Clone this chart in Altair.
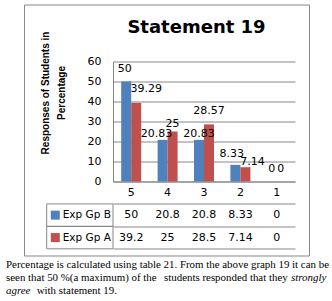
import altair as alt
import pandas as pd

# ---- data ----
categories = ["5", "4", "3", "2", "1"]
series = ["Exp Gp B", "Exp Gp A"]
exp_gp_b = [50, 20.83, 20.83, 8.33, 0]
exp_gp_a = [39.29, 25, 28.57, 7.14, 0]
table_b = ["50", "20.8", "20.8", "8.33", "0"]
table_a = ["39.2", "25", "28.5", "7.14", "0"]
colors = ["#4F81BD", "#C0504D"]

# label nudges (pixels) as placed in the reference to avoid collisions
label_dx_b = [-1.5, -6, 0, -3.7, 0]
label_dx_a = [10, 0, 0, 7, -1]
label_dy_b = [-10, -3, -3, -8, -10]
label_dy_a = [-11.4, -4.7, -10, -2.7, -10]

title_text = "Statement 19"
y_title = ["Responses of Students in", "Percentage"]
caption_line1 = "Percentage is calculated using table 21. From the above graph 19 it can be"
caption_line2a = "seen that 50 %(a maximum) of the"
caption_line2b = "students responded that they"
caption_italic2 = "strongly"
caption_italic3 = "agree"
caption_line3 = "with statement 19."

GRID = "#878787"
W, H, TH = 182, 120, 67.3

# ---- build tables ----
rows = []
for s, vals, dxs, dys in zip(series, [exp_gp_b, exp_gp_a], [label_dx_b, label_dx_a], [label_dy_b, label_dy_a]):
    for c, v, ddx, ddy in zip(categories, vals, dxs, dys):
        rows.append({"cat": c, "series": s, "value": v, "label": f"{v:g}", "ldx": ddx, "ldy": ddy})
bars_df = pd.DataFrame(rows)

trows = []
for c in categories:
    trows.append({"cat": c, "row": "hdr", "txt": c})
for s, vals in zip(series, [table_b, table_a]):
    for c, v in zip(categories, vals):
        trows.append({"cat": c, "row": s, "txt": v})
table_df = pd.DataFrame(trows)
legend_df = pd.DataFrame({"row": series})
one = pd.DataFrame({"k": [0]})

row_order = ["hdr"] + series
color_scale = alt.Scale(domain=series, range=colors)
cat_scale = alt.Scale(domain=categories, paddingInner=0, paddingOuter=0)

x_bar = alt.X("cat:N", sort=categories, scale=cat_scale,
              axis=alt.Axis(tickBand="extent", labels=False, ticks=True, tickSize=TH,
                            tickColor=GRID, domainColor=GRID, grid=False, title=None))
x_plain = alt.X("cat:N", sort=categories, scale=cat_scale, axis=None)
xoff = alt.XOffset("series:N", sort=series, scale=alt.Scale(domain=series, paddingInner=0, paddingOuter=0.82))
y_val = alt.Y(
    "value:Q",
    scale=alt.Scale(domain=[0, 60]),
    axis=alt.Axis(
        values=[0, 10, 20, 30, 40, 50, 60],
        grid=True, gridColor=GRID, domainColor=GRID, ticks=False,
        labelFont="DejaVu Sans", labelFontSize=11, labelColor="black", labelPadding=12,
        title=y_title, titleFont="Liberation Sans", titleFontSize=10, titleFontWeight="bold",
        titleColor="black", titleX=-63, titleY=31, titleBaseline="bottom", titleLineHeight=16.7,
    ),
)
y_val_plain = alt.Y("value:Q", scale=alt.Scale(domain=[0, 60]), axis=None)

row_scale = alt.Scale(domain=row_order, range=[H, H + TH], paddingInner=0, paddingOuter=0)
y_row_grid = alt.Y("row:N", sort=row_order, scale=row_scale,
                   axis=alt.Axis(tickBand="extent", grid=True, gridColor=GRID, labels=False,
                                 ticks=False, domain=False, title=None))
y_row = alt.Y("row:N", sort=row_order, scale=row_scale, axis=None)

# ---- plot ----
bars = alt.Chart(bars_df).mark_bar().encode(
    x=x_bar, xOffset=xoff, y=y_val,
    color=alt.Color("series:N", scale=color_scale, legend=None),
)
bar_labels = alt.Chart(bars_df).mark_text(
    baseline="alphabetic", font="DejaVu Sans", fontSize=11, color="black",
    dx={"expr": "datum.ldx"}, dy={"expr": "datum.ldy"},
).encode(x=x_plain, xOffset=xoff, y=y_val_plain, text="label:N")

# ---- data table ----
cells = alt.Chart(table_df).mark_text(font="DejaVu Sans", fontSize=11, color="black").encode(
    x=x_plain, y=y_row_grid, text="txt:N")
legend_box = alt.Chart(legend_df).mark_rect(fill="transparent", stroke=GRID).encode(
    x=alt.value(-66.3), x2=alt.value(0), y=y_row)
legend_sq = alt.Chart(legend_df).mark_square(size=81, opacity=1, filled=True).encode(
    x=alt.value(-57.7), y=y_row,
    color=alt.Color("row:N", scale=color_scale, legend=None))
legend_txt = alt.Chart(legend_df).mark_text(
    align="left", font="DejaVu Sans", fontSize=10.5, color="black").encode(
    x=alt.value(-50.3), y=y_row, text="row:N")

# ---- frame, title, caption ----
frame = alt.Chart(one).mark_rect(fill="transparent", stroke=GRID, strokeWidth=1).encode(
    x=alt.value(-88.5), x2=alt.value(196.5), y=alt.value(-56.5), y2=alt.value(194.5))
title = alt.Chart(one).mark_text(
    font="DejaVu Sans", fontSize=18, fontWeight="bold", color="black",
    align="center", baseline="alphabetic").encode(
    x=alt.value(83.5), y=alt.value(-29), text=alt.value(title_text))

cap_font = dict(font="Liberation Serif", fontSize=10.9, color="black", align="left", baseline="alphabetic")
cap1 = alt.Chart(one).mark_text(limit=325, ellipsis="\u200b", **cap_font).encode(
    x=alt.value(-107), y=alt.value(206.3), text=alt.value(caption_line1))
cap2a = alt.Chart(one).mark_text(**cap_font).encode(
    x=alt.value(-107), y=alt.value(219.7), text=alt.value(caption_line2a))
cap2b = alt.Chart(one).mark_text(**cap_font).encode(
    x=alt.value(51), y=alt.value(219.7), text=alt.value(caption_line2b))
cap2d = alt.Chart(one).mark_text(fontStyle="italic", limit=40, ellipsis="\u200b", **cap_font).encode(
    x=alt.value(178), y=alt.value(219.7), text=alt.value(caption_italic2))
cap3a = alt.Chart(one).mark_text(fontStyle="italic", **cap_font).encode(
    x=alt.value(-107), y=alt.value(232.8), text=alt.value(caption_italic3))
cap3b = alt.Chart(one).mark_text(**cap_font).encode(
    x=alt.value(-76.3), y=alt.value(232.8), text=alt.value(caption_line3))

chart = alt.layer(
    frame, bars, bar_labels, cells, legend_box, legend_sq, legend_txt, title,
    cap1, cap2a, cap2b, cap2d, cap3a, cap3b,
).resolve_scale(y="independent").properties(
    width=W, height=H,
    padding={"left": 6, "top": 4.5, "right": 0, "bottom": 0}, background="white",
).configure_view(strokeWidth=0)

chart.save("out.html", embed_options={"renderer": "svg", "actions": False})
